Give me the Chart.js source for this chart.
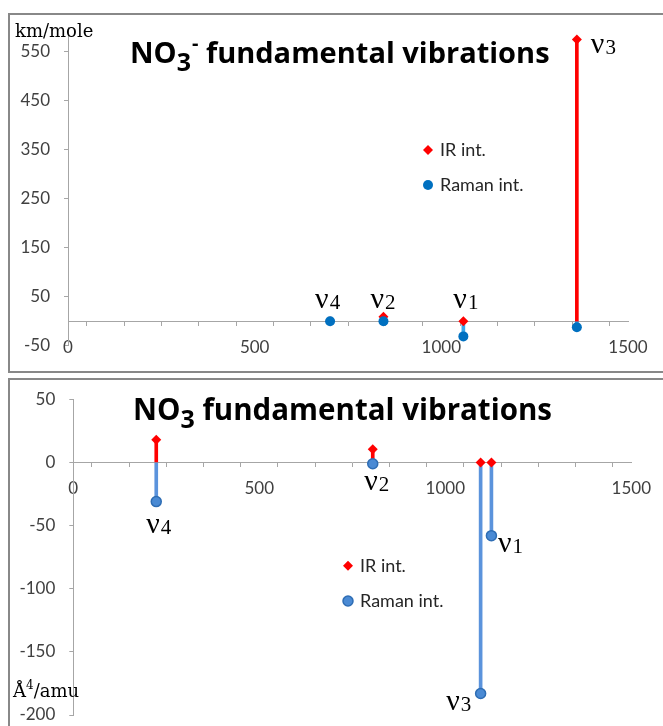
<!DOCTYPE html>
<html>
<head>
<meta charset="utf-8">
<script src="https://cdn.jsdelivr.net/npm/chart.js@4"></script>
<style>
    html, body { margin: 0; padding: 0; background: #fff; }
    body { width: 663px; height: 726px; position: relative; overflow: hidden; }
    canvas { position: absolute; left: 0; }
    #topChart { top: 0; }
    #bottomChart { top: 372px; }
    .panel { position: absolute; left: 8px; width: 700px; border: 2px solid #888; pointer-events: none; }
    #topPanel { top: 13px; height: 356px; }
    #bottomPanel { top: 378px; height: 400px; }
</style>
</head>
<body>
<canvas id="topChart" width="663" height="372"></canvas>
<canvas id="bottomChart" width="663" height="380"></canvas>
<div class="panel" id="topPanel"></div>
<div class="panel" id="bottomPanel"></div>
<script>
// x ekseni (cm-1)
const xTicks = [0, 100, 200, 300, 400, 500, 600, 700, 800, 900, 1000, 1100, 1200, 1300, 1400, 1500];
const xTickLabels = [0, 500, 1000, 1500];

// NO3- anyonu (üst grafik)
const anionModes = ['ν4', 'ν2', 'ν1', 'ν3'];
const anionFreq = [702, 845, 1059, 1363];
const anionIR = [0, 9, 0, 575];
const anionRaman = [0, 0, -31, -12.5];
const anionYTicks = [-50, 50, 150, 250, 350, 450, 550];

// NO3 radikali (alt grafik)
const radicalModes = ['ν4', 'ν2', 'ν3', 'ν1'];
const radicalFreq = [223, 805, 1095, 1124];
const radicalIR = [18, 10.5, 0, 0];
const radicalRaman = [-31, -1, -183, -58];
const radicalYTicks = [-200, -150, -100, -50, 0, 50];

const AXIS_GREY = '#a6a6a6';
const TICK_TEXT = '#404040';

function drawMarker(ctx, style, x, y, r, fill, edge, edgeWidth) {
    ctx.beginPath();
    if (style === 'rectRot') {
        ctx.moveTo(x, y - r);
        ctx.lineTo(x + r, y);
        ctx.lineTo(x, y + r);
        ctx.lineTo(x - r, y);
        ctx.closePath();
    } else {
        ctx.arc(x, y, r, 0, Math.PI * 2);
    }
    ctx.fillStyle = fill;
    ctx.fill();
    if (edgeWidth) {
        ctx.lineWidth = edgeWidth;
        ctx.strokeStyle = edge;
        ctx.stroke();
    }
}

// başlık, birim, mod etiketleri ve gösterge
const decorPlugin = {
    id: 'decor',
    afterDraw(chart, args, o) {
        const ctx = chart.ctx;
        const xs = chart.scales.x, ys = chart.scales.y;
        ctx.save();
        ctx.textAlign = 'left';
        ctx.textBaseline = 'alphabetic';
        ctx.fillStyle = '#000';

        let tx = o.title.x;
        o.title.parts.forEach(p => {
            ctx.font = `bold ${p.size}px "Open Sans"`;
            ctx.fillText(p.text, tx, o.title.y + (p.dy || 0));
            tx += ctx.measureText(p.text).width + (p.gap || 0);
        });

        let ux = o.unit.x;
        o.unit.parts.forEach(p => {
            ctx.font = `${p.size}px "DejaVu Serif"`;
            ctx.fillText(p.text, ux, o.unit.y + (p.dy || 0));
            ux += ctx.measureText(p.text).width;
        });

        o.modes.names.forEach((name, i) => {
            const px = xs.getPixelForValue(o.modes.freq[i]) + o.modes.offsets[i][0];
            const py = ys.getPixelForValue(o.modes.anchor[i]) + o.modes.offsets[i][1];
            ctx.font = '30px "Liberation Serif"';
            ctx.fillText(name.charAt(0), px, py);
            const w = ctx.measureText(name.charAt(0)).width;
            ctx.font = '21px "Liberation Serif"';
            ctx.fillText(name.slice(1), px + w + 1, py + 1);
        });

        const pts = chart.data.datasets.filter(d => d.type !== 'bar');
        pts.forEach((d, i) => {
            const lx = o.legend.x, ly = o.legend.y + i * o.legend.spacing;
            drawMarker(ctx, d.pointStyle, lx, ly, d.pointRadius, d.backgroundColor, d.borderColor, d.borderWidth);
            ctx.font = '18px Lato';
            ctx.textBaseline = 'middle';
            ctx.fillStyle = '#262626';
            ctx.fillText(d.label, lx + 12, ly);
        });
        ctx.restore();
    }
};

function makeChart(canvasId, c) {
    const ctx = document.getElementById(canvasId).getContext('2d');
    return new Chart(ctx, {
        type: 'scatter',
        data: {
            datasets: [{
                type: 'bar',
                label: 'Raman stem',
                data: c.freq.map((f, i) => ({ x: f, y: [0, c.raman[i]] })),
                backgroundColor: c.ramanStem,
                barThickness: 3,
                grouped: false,
                order: 4
            }, {
                type: 'bar',
                label: 'IR stem',
                data: c.freq.map((f, i) => ({ x: f, y: [0, c.ir[i]] })),
                backgroundColor: '#ff0000',
                barThickness: 3,
                grouped: false,
                order: 3
            }, {
                label: 'IR int.',
                data: c.freq.map((f, i) => ({ x: f, y: c.ir[i] })),
                pointStyle: 'rectRot',
                pointRadius: 5,
                backgroundColor: '#ff0000',
                borderColor: '#ff0000',
                borderWidth: 0,
                order: 2
            }, {
                label: 'Raman int.',
                data: c.freq.map((f, i) => ({ x: f, y: c.raman[i] })),
                pointStyle: 'circle',
                pointRadius: 5,
                backgroundColor: c.ramanFill,
                borderColor: c.ramanEdge,
                borderWidth: c.ramanEdgeWidth,
                order: 1
            }]
        },
        options: {
            responsive: false,
            animation: false,
            events: [],
            devicePixelRatio: 1,
            layout: { padding: c.padding },
            plugins: {
                legend: { display: false },
                tooltip: { enabled: false },
                decor: c.decor
            },
            scales: {
                x: {
                    type: 'linear',
                    min: 0,
                    max: 1500,
                    offset: false,
                    position: { y: 0 },
                    afterBuildTicks: s => { s.ticks = xTicks.map(v => ({ value: v })); },
                    ticks: {
                        callback: v => xTickLabels.includes(v) ? String(v) : '',
                        autoSkip: false,
                        maxRotation: 0,
                        padding: 12,
                        color: TICK_TEXT,
                        font: { family: 'Lato', size: 17 }
                    },
                    grid: { drawOnChartArea: false, drawTicks: true, tickLength: 4, tickColor: AXIS_GREY },
                    border: { color: AXIS_GREY, width: 1 }
                },
                y: {
                    type: 'linear',
                    min: c.yMin,
                    max: c.yMax,
                    position: 'left',
                    afterBuildTicks: s => { s.ticks = c.yTicks.map(v => ({ value: v })); },
                    afterFit: s => { s.width = c.yAxisWidth; },
                    ticks: {
                        padding: 14,
                        color: TICK_TEXT,
                        font: { family: 'Lato', size: 17 }
                    },
                    grid: { drawOnChartArea: false, drawTicks: true, tickLength: 4, tickColor: AXIS_GREY },
                    border: { color: AXIS_GREY, width: 1 }
                }
            }
        },
        plugins: [decorPlugin]
    });
}

// Üst grafik: NO3-
makeChart('topChart', {
    freq: anionFreq, ir: anionIR, raman: anionRaman,
    yMin: -50, yMax: 600, yTicks: anionYTicks, yAxisWidth: 68,
    padding: { left: 0, right: 35, top: 27.2, bottom: 26.3 },
    ramanStem: '#3aa6e8', ramanFill: '#0070c0', ramanEdge: '#0070c0', ramanEdgeWidth: 0,
    decor: {
        title: { x: 130, y: 63, parts: [
            { text: 'NO', size: 29 },
            { text: '3', size: 25, dy: 8, gap: 1 },
            { text: '-', size: 20, dy: -13 },
            { text: ' fundamental vibrations', size: 29 }
        ] },
        unit: { x: 15, y: 37, parts: [{ text: 'km/mole', size: 18 }] },
        modes: { names: anionModes, freq: anionFreq, anchor: anionIR,
            offsets: [[-15, -13], [-13, -8.5], [-10, -13], [14, 14]] },
        legend: { x: 428, y: 150, spacing: 35 }
    }
});

// Alt grafik: NO3
makeChart('bottomChart', {
    freq: radicalFreq, ir: radicalIR, raman: radicalRaman,
    yMin: -200, yMax: 50, yTicks: radicalYTicks, yAxisWidth: 73.3,
    padding: { left: 0, right: 29, top: 27.3, bottom: 37 },
    ramanStem: '#5b93dc', ramanFill: '#4a8ad4', ramanEdge: '#2e6db4', ramanEdgeWidth: 1.5,
    decor: {
        title: { x: 133, y: 48, parts: [
            { text: 'NO', size: 29.5 },
            { text: '3', size: 25, dy: 8 },
            { text: ' fundamental vibrations', size: 29.5 }
        ] },
        unit: { x: 13, y: 324.7, parts: [
            { text: 'Å', size: 18 },
            { text: '4', size: 12, dy: -8 },
            { text: '/amu', size: 18 }
        ] },
        modes: { names: radicalModes, freq: radicalFreq, anchor: radicalRaman,
            offsets: [[-10, 31], [-8.6, 26.4], [-34.4, 16.6], [6.5, 16]] },
        legend: { x: 348, y: 193.7, spacing: 35.3 }
    }
});
</script>
</body>
</html>
